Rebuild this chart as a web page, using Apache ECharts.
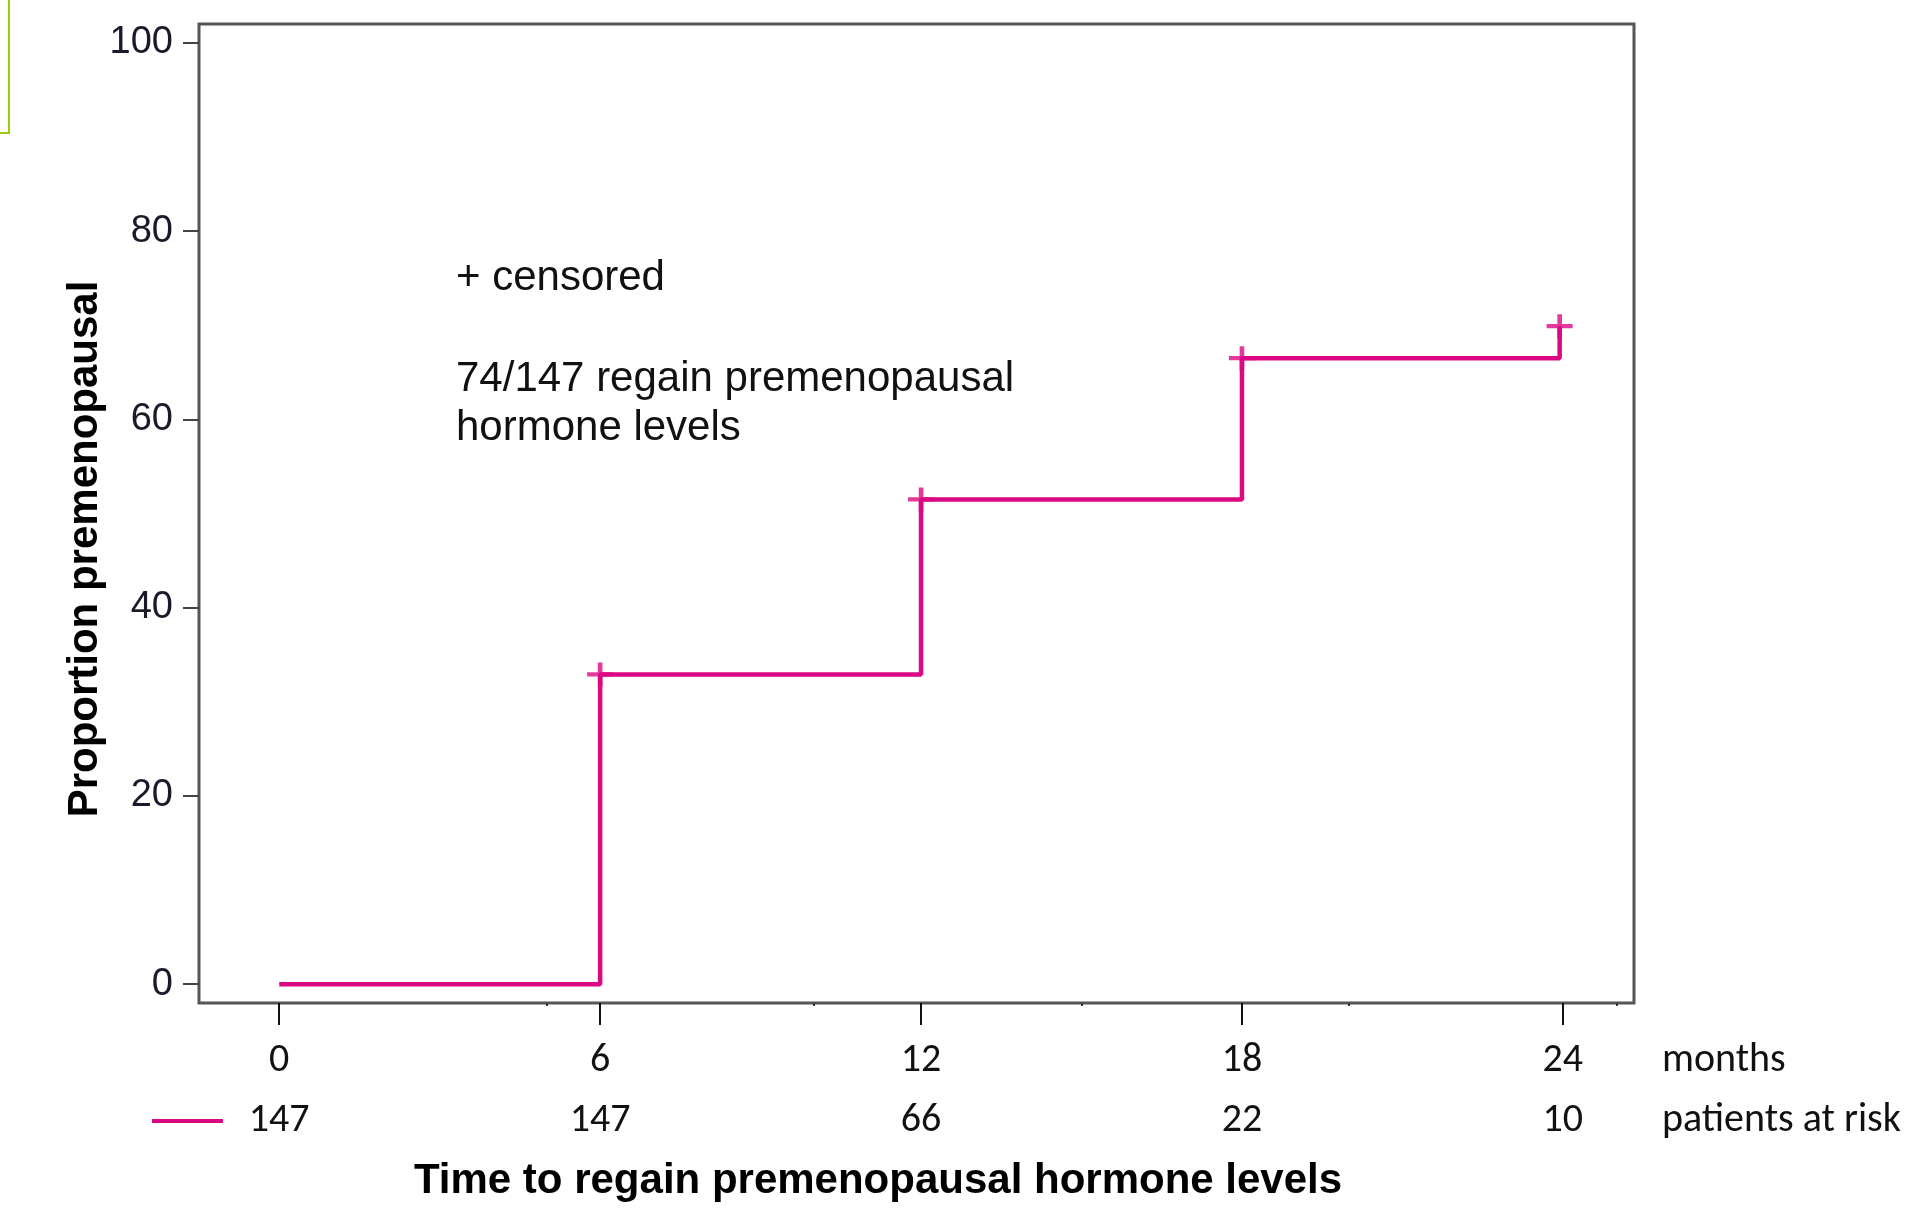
<!DOCTYPE html>
<html>
<head>
<meta charset="utf-8">
<script src="https://cdn.jsdelivr.net/npm/echarts@6/dist/echarts.min.js"></script>
<style>
  html, body { margin: 0; padding: 0; background: #fff; }
  #chart { width: 1913px; height: 1210px; }
</style>
</head>
<body>
<div id="chart"></div>
<script>
// Kaplan-Meier style step curve (months, % premenopausal)
const stepMonths = [0, 6, 12, 18, 23.94];
const stepPct = [0, 32.9, 51.5, 66.5, 69.9];

// censored marks
const censorMonths = [6, 12, 18, 23.94];
const censorPct = [32.9, 51.5, 66.5, 69.9];

// axis ticks
const monthTicks = [0, 6, 12, 18, 24];
const minorMonthTicks = [5, 10, 15, 20, 25];
const pctTicks = [0, 20, 40, 60, 80, 100];

// number at risk under each month tick
const atRisk = [147, 147, 66, 22, 10];

const pink = '#dc0782';
const arial = '"Liberation Sans", Arial, sans-serif';
const calibri = 'Carlito, "Open Sans", sans-serif';

const chart = echarts.init(document.getElementById('chart'));

// filled "+" shape
const plusPath = 'path://M11.5,0 H16.5 V11.5 H28 V16.5 H16.5 V28 H11.5 V16.5 H0 V11.5 H11.5 Z';

const option = {
  animation: false,
  backgroundColor: '#fff',
  grid: {
    left: 199, top: 24, right: 279, bottom: 207,
    show: true,
    borderColor: '#555',
    borderWidth: 3
  },
  xAxis: [
    {
      type: 'value',
      min: -1.5,
      max: 25.33,
      axisLine: { show: false, onZero: false },
      splitLine: { show: false },
      axisTick: {
        show: true,
        customValues: monthTicks,
        length: 22,
        lineStyle: { color: '#111', width: 2 }
      },
      axisLabel: {
        customValues: monthTicks,
        margin: 58,
        verticalAlign: 'middle',
        fontFamily: calibri,
        fontSize: 40,
        color: '#111'
      }
    },
    {
      // patients at risk row, on the same month scale
      type: 'value',
      min: -1.5,
      max: 25.33,
      position: 'bottom',
      axisLine: { show: false, onZero: false },
      splitLine: { show: false },
      axisTick: { show: false },
      axisLabel: {
        customValues: monthTicks,
        margin: 118,
        verticalAlign: 'middle',
        fontFamily: calibri,
        fontSize: 40,
        color: '#111',
        formatter: v => atRisk[monthTicks.indexOf(v)]
      }
    },
    {
      // small minor marks on the axis line
      type: 'value',
      min: -1.5,
      max: 25.33,
      position: 'bottom',
      axisLine: { show: false, onZero: false },
      splitLine: { show: false },
      axisLabel: { show: false },
      axisTick: {
        show: true,
        customValues: minorMonthTicks,
        length: 3,
        lineStyle: { color: '#333', width: 2 }
      }
    }
  ],
  yAxis: {
    type: 'value',
    min: -2,
    max: 102,
    axisLine: { show: false, onZero: false },
    splitLine: { show: false },
    axisTick: {
      show: true,
      customValues: pctTicks,
      length: 16,
      lineStyle: { color: '#444', width: 2 }
    },
    axisLabel: {
      customValues: pctTicks,
      margin: 26,
      padding: [6, 0, 0, 0],
      fontFamily: arial,
      fontSize: 38,
      color: '#1a1a2a'
    }
  },
  series: [
    {
      name: 'curve',
      type: 'line',
      step: 'end',
      showSymbol: false,
      lineStyle: { color: pink, width: 4.5 },
      data: stepMonths.map((m, i) => [m, stepPct[i]]),
      z: 3
    },
    {
      name: 'censored',
      type: 'scatter',
      symbol: plusPath,
      symbolSize: [26, 24],
      itemStyle: { color: pink },
      data: censorMonths.map((m, i) => [m, censorPct[i]]),
      z: 4
    }
  ],
  graphic: [
    {
      type: 'rect',
      shape: { x: -5, y: -5, width: 14, height: 138 },
      style: { fill: 'none', stroke: '#9acd14', lineWidth: 2 }
    },
    {
      type: 'text',
      x: 85, y: 549,
      rotation: Math.PI / 2,
      style: {
        text: 'Proportion premenopausal',
        font: 'bold 42px ' + arial,
        fill: '#000',
        align: 'center',
        verticalAlign: 'middle'
      }
    },
    {
      type: 'text',
      x: 878, y: 1181,
      style: {
        text: 'Time to regain premenopausal hormone levels',
        font: 'bold 42px ' + arial,
        fill: '#000',
        align: 'center',
        verticalAlign: 'middle'
      }
    },
    {
      type: 'text',
      x: 456, y: 278,
      style: {
        text: '+ censored',
        font: '42px ' + arial,
        fill: '#111',
        verticalAlign: 'middle'
      }
    },
    {
      type: 'text',
      x: 456, y: 379,
      style: {
        text: '74/147 regain premenopausal',
        font: '42px ' + arial,
        fill: '#111',
        verticalAlign: 'middle'
      }
    },
    {
      type: 'text',
      x: 456, y: 428,
      style: {
        text: 'hormone levels',
        font: '42px ' + arial,
        fill: '#111',
        verticalAlign: 'middle'
      }
    },
    {
      type: 'text',
      x: 1662, y: 1061,
      style: {
        text: 'months',
        font: '40px ' + calibri,
        fill: '#111',
        verticalAlign: 'middle'
      }
    },
    {
      type: 'text',
      x: 1662, y: 1121,
      style: {
        text: 'patients at risk',
        font: '40px ' + calibri,
        fill: '#111',
        verticalAlign: 'middle'
      }
    },
    {
      type: 'line',
      shape: { x1: 152, y1: 1121, x2: 223, y2: 1121 },
      style: { stroke: pink, lineWidth: 4 }
    }
  ]
};

chart.setOption(option);
</script>
</body>
</html>
